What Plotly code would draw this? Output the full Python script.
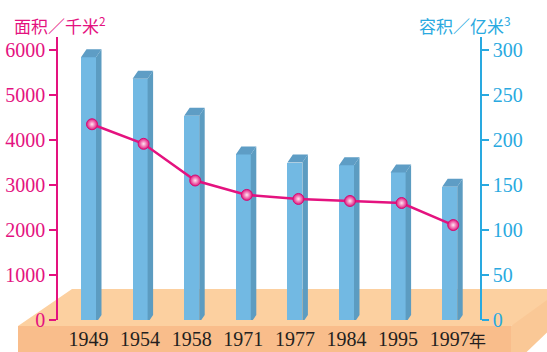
import plotly.graph_objects as go

# Dongting-style lake data: surface area (line, left axis) and storage volume (bars, right axis)
years = ["1949", "1954", "1958", "1971", "1977", "1984", "1995", "1997"]
area_km2 = [4350, 3915, 3100, 2780, 2690, 2645, 2600, 2110]
volume_1e8m3 = [292, 268, 227, 184, 175, 172, 164, 148]
area_ticks = [0, 1000, 2000, 3000, 4000, 5000, 6000]
volume_ticks = [0, 50, 100, 150, 200, 250, 300]

W, H = 547, 352
ML, MR, MT, MB = 58, 67, 37, 32
PW, PH = W - ML - MR, H - MT - MB

MAGENTA = "#E4127F"
BLUE = "#29A9E0"
FRONT = "#72B9E3"
SIDE = "#5C9CC1"
TOP = "#5E9DC5"
SERIF = "Liberation Serif, Times New Roman, serif"

# x axis: category index, 51.6 px between bars, first bar at 88.5 px
STEP = 51.6
X0 = 88.5
x_rng = [(ML - X0) / STEP, (ML + PW - X0) / STEP]
vol_top = 300 + (50 - MT) / 0.9
area_top = vol_top * 20

bar_w = 15 / STEP
dx = 5.5 / STEP
dy = 8 * vol_top / PH
base = -3 * vol_top / PH


def px(xp):
    return (xp - ML) / PW


def py(yp):
    return (H - MB - yp) / PH


xs = list(range(len(years)))

fig = go.Figure()

# front faces of the bars
fig.add_trace(go.Bar(
    x=xs, y=[v - base for v in volume_1e8m3], base=base, width=bar_w,
    marker=dict(color=FRONT, line=dict(width=0)), yaxis="y",
    cliponaxis=False, showlegend=False, hoverinfo="skip"))

# side and top faces giving the bars depth
sx, sy, tx, ty = [], [], [], []
for i, v in zip(xs, volume_1e8m3):
    xl, xr = i - bar_w / 2, i + bar_w / 2
    sx += [xr, xr, xr + dx, xr + dx, xr, None]
    sy += [base, v, v + dy, base + dy, base, None]
    tx += [xl, xr, xr + dx, xl + dx, xl, None]
    ty += [v, v, v + dy, v + dy, v, None]
fig.add_trace(go.Scatter(x=sx, y=sy, fill="toself", fillcolor=SIDE, mode="lines",
                         line=dict(width=0), yaxis="y", cliponaxis=False,
                         showlegend=False, hoverinfo="skip"))
fig.add_trace(go.Scatter(x=tx, y=ty, fill="toself", fillcolor=TOP, mode="lines",
                         line=dict(width=0), yaxis="y", cliponaxis=False,
                         showlegend=False, hoverinfo="skip"))

# area line with glossy markers
fig.add_trace(go.Scatter(
    x=[i + 0.068 for i in xs], y=area_km2, yaxis="y2", mode="lines+markers",
    line=dict(color=MAGENTA, width=2.5),
    marker=dict(size=11, color="#E3157F",
                gradient=dict(type="radial", color="#FDE6F1"),
                line=dict(color="#D40F74", width=1)),
    cliponaxis=False, showlegend=False))

# floor platform
floor_top = "M {},{} L {},{} L {},{} L {},{} Z".format(
    px(18), py(326), px(72), py(289), px(600), py(289), px(511), py(326))
floor_side = "M {},{} L {},{} L {},{} L {},{} Z".format(
    px(511), py(326), px(562), py(289), px(562), py(318), px(511), py(367))
floor_front = "M {},{} L {},{} L {},{} L {},{} Z".format(
    px(18), py(326), px(511), py(326), px(511), py(367), px(18), py(367))
shapes = [
    dict(type="path", path=floor_top, xref="paper", yref="paper",
         fillcolor="#FCD0A0", line=dict(width=0), layer="below"),
    dict(type="path", path=floor_side, xref="paper", yref="paper",
         fillcolor="#FAC896", line=dict(width=0), layer="below"),
    dict(type="path", path=floor_front, xref="paper", yref="paper",
         fillcolor="#F9BD8B", line=dict(width=0), layer="below"),
]

annotations = [
    dict(text="面积／千米<sup>2</sup>", xref="paper", yref="paper", x=px(12), y=py(25),
         xanchor="left", yanchor="middle", showarrow=False,
         font=dict(family="Noto Sans CJK SC", size=17, color=MAGENTA)),
    dict(text="容积／亿米<sup>3</sup>", xref="paper", yref="paper", x=px(417), y=py(25),
         xanchor="left", yanchor="middle", showarrow=False,
         font=dict(family="Noto Sans CJK SC", size=17, color=BLUE)),
    dict(text="年", xref="x", yref="paper", x=xs[-1], xshift=28, y=py(339),
         xanchor="center", yanchor="middle", showarrow=False,
         font=dict(family="Noto Sans CJK SC", size=17, color="#231F20")),
]

fig.update_layout(
    width=W, height=H,
    margin=dict(l=ML, r=MR, t=MT, b=MB, pad=0, autoexpand=False),
    paper_bgcolor="white", plot_bgcolor="rgba(0,0,0,0)",
    shapes=shapes, annotations=annotations, bargap=0,
    xaxis=dict(range=x_rng, tickvals=xs, ticktext=years, showgrid=False,
               zeroline=False, showline=False, ticks="", ticklabelstandoff=5,
               automargin=False,
               tickfont=dict(family=SERIF, size=20, color="#231F20")),
    yaxis=dict(side="right", range=[0, vol_top], tickvals=volume_ticks,
               showgrid=False, zeroline=False, showline=True, linecolor=BLUE,
               linewidth=1.5, ticks="outside", ticklen=7, tickcolor=BLUE,
               tickwidth=1.5, automargin=False,
               tickfont=dict(family=SERIF, size=20, color=BLUE)),
    yaxis2=dict(side="left", overlaying="y", range=[0, area_top], tickvals=area_ticks,
                showgrid=False, zeroline=False, showline=True, linecolor=MAGENTA,
                linewidth=1.5, ticks="outside", ticklen=7, tickcolor=MAGENTA,
                tickwidth=1.5, automargin=False,
                tickfont=dict(family=SERIF, size=20, color=MAGENTA)),
)

fig.write_html("out.html")
